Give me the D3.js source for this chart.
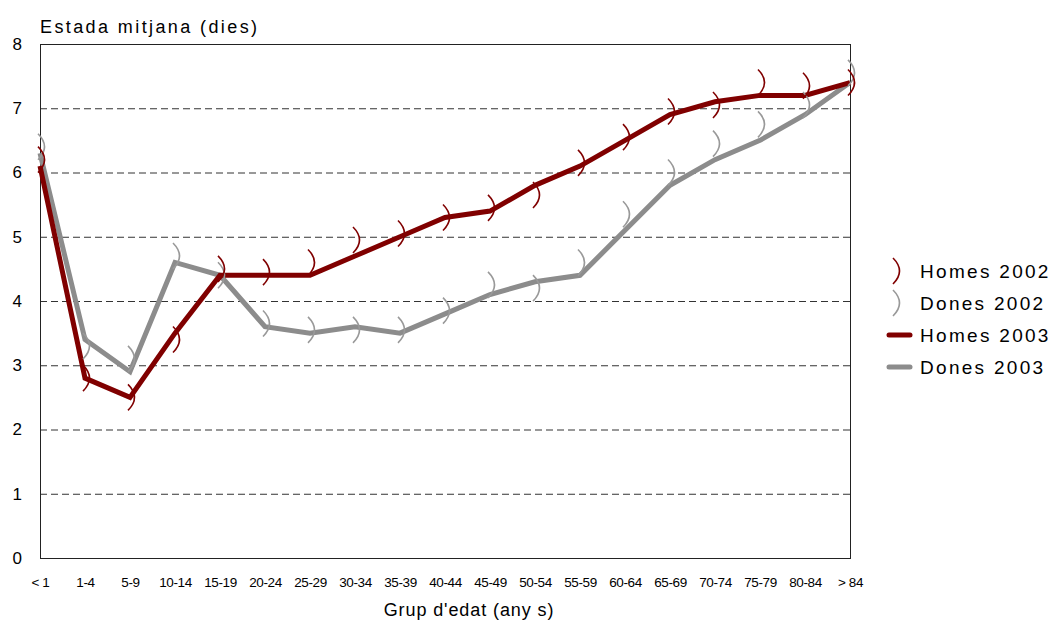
<!DOCTYPE html>
<html><head><meta charset="utf-8">
<script src="https://cdn.jsdelivr.net/npm/d3@7"></script>
<style>
html,body{margin:0;padding:0;background:#fff;}
svg{display:block;font-family:"Liberation Sans",Arial,sans-serif;}
</style></head>
<body>
<svg id="chart" width="1053" height="623"></svg>
<script>
const categories = ["< 1","1-4","5-9","10-14","15-19","20-24","25-29","30-34","35-39","40-44","45-49","50-54","55-59","60-64","65-69","70-74","75-79","80-84","> 84"];
const homes2002 = [6.2,2.8,2.5,3.4,4.5,4.45,4.6,4.95,5.05,5.3,5.45,5.65,6.15,6.55,6.95,7.05,7.4,7.35,7.4];
const dones2002 = [6.4,3.3,3.1,4.7,4.4,3.65,3.55,3.55,3.55,3.85,4.25,4.2,4.6,5.35,6.0,6.45,6.75,7.05,7.55];
const homes2003 = [6.1,2.8,2.5,3.5,4.4,4.4,4.4,4.7,5.0,5.3,5.4,5.8,6.1,6.5,6.9,7.1,7.2,7.2,7.4];
const dones2003 = [6.3,3.4,2.9,4.6,4.4,3.6,3.5,3.6,3.5,3.8,4.1,4.3,4.4,5.1,5.8,6.2,6.5,6.9,7.4];
const yTicks = [0,1,2,3,4,5,6,7,8];
const seriesNames = ["Homes 2002","Dones 2002","Homes 2003","Dones 2003"];
const RED = "#800000", GRAY = "#8c8c8c", GRAYM = "#999999";

const svg = d3.select("#chart");
const L = 40, R = 850, T = 44, B = 558;
const x = d3.scalePoint().domain(categories).range([L, R]);
const y = d3.scaleLinear().domain([0, 8]).range([B, T]);

// gridlines
svg.append("g").selectAll("line").data(yTicks.filter(d => d > 0 && d < 8)).join("line")
  .attr("x1", L).attr("x2", R).attr("y1", d => y(d) + 0.5).attr("y2", d => y(d) + 0.5)
  .attr("stroke", "#333").attr("stroke-width", 1).attr("stroke-dasharray", "7,4");

// frame
svg.append("rect").attr("x", L + 0.5).attr("y", T + 0.5).attr("width", R - L).attr("height", B - T)
  .attr("fill", "none").attr("stroke", "#222").attr("stroke-width", 1);

// y axis labels
const yAxis = d3.axisLeft(y).tickValues(yTicks).tickSize(0).tickPadding(0).tickFormat(d3.format("d"));
const ga = svg.append("g").attr("transform", `translate(${L - 18},0)`).call(yAxis);
ga.select(".domain").remove();
ga.selectAll("text").attr("font-size", 17).attr("fill", "#000").attr("font-family", "Liberation Sans, Arial, sans-serif");

// x axis labels
const xAxis = d3.axisBottom(x).tickSize(0).tickPadding(0);
const gx = svg.append("g").attr("transform", `translate(0,${B + 19})`).call(xAxis);
gx.select(".domain").remove();
gx.selectAll("text").attr("font-size", 13.5).attr("fill", "#000").attr("letter-spacing", "-0.4")
  .attr("font-family", "Liberation Sans, Arial, sans-serif");

// titles
svg.append("text").attr("x", 40).attr("y", 33).attr("font-size", 18).attr("letter-spacing", 2.4)
  .text("Estada mitjana (dies)");
svg.append("text").attr("x", 469).attr("y", 616).attr("text-anchor", "middle").attr("font-size", 18)
  .attr("letter-spacing", 0.9).text("Grup d'edat (any s)");

// lines
const line = d3.line().x((d, i) => x(categories[i])).y(d => y(d));
svg.append("path").datum(dones2003).attr("d", line).attr("fill", "none")
  .attr("stroke", GRAY).attr("stroke-width", 5).attr("stroke-linejoin", "miter");
svg.append("path").datum(homes2003).attr("d", line).attr("fill", "none")
  .attr("stroke", RED).attr("stroke-width", 5).attr("stroke-linejoin", "miter");

// markers
const arcPath = "M-3,-13 Q10,0 -3,13";
function markers(data, color) {
  svg.append("g").selectAll("path").data(data).join("path")
    .attr("transform", (d, i) => `translate(${x(categories[i]) + 1},${y(d)})`)
    .attr("d", arcPath).attr("fill", "none").attr("stroke", color).attr("stroke-width", 1.6);
}
markers(dones2002, GRAYM);
markers(homes2002, RED);

// legend
const lg = svg.append("g");
const rows = [271, 303, 335, 367];
seriesNames.forEach((n, i) => {
  const yy = rows[i];
  if (i < 2) {
    lg.append("path").attr("transform", `translate(896,${yy})`).attr("d", arcPath)
      .attr("fill", "none").attr("stroke", i === 0 ? RED : GRAYM).attr("stroke-width", 1.6);
  } else {
    lg.append("line").attr("x1", 889).attr("x2", 910).attr("y1", yy).attr("y2", yy)
      .attr("stroke", i === 2 ? RED : GRAY).attr("stroke-width", 5).attr("stroke-linecap", "round");
  }
  lg.append("text").attr("x", 920).attr("y", yy + 7).attr("font-size", 19).attr("letter-spacing", 2.3).text(n);
});
</script>
</body></html>
